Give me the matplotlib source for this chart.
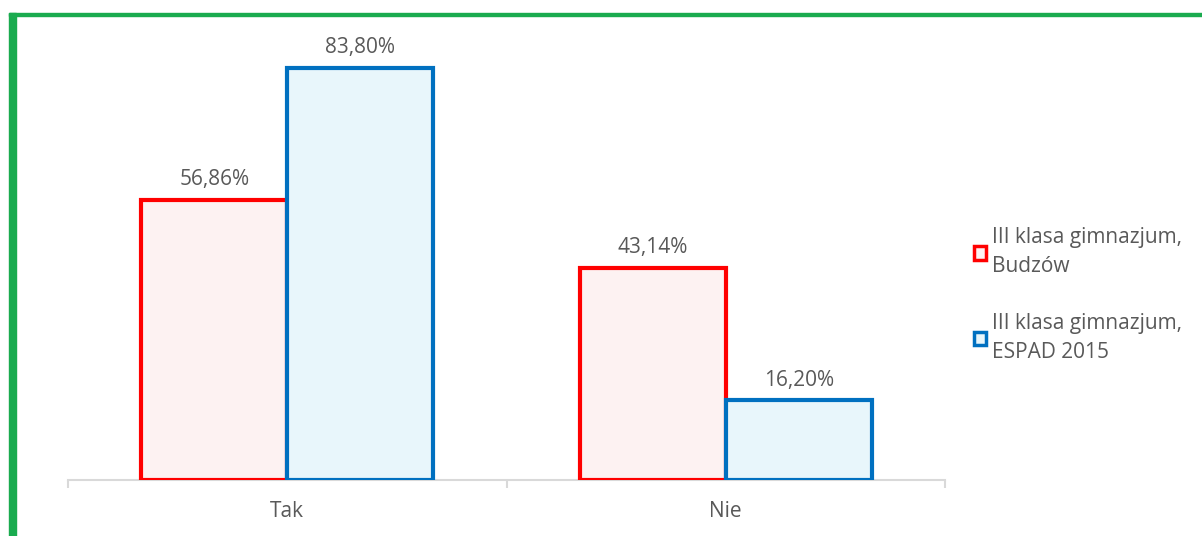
import matplotlib
matplotlib.use("Agg")
import matplotlib.pyplot as plt
from matplotlib.patches import Rectangle
import numpy as np

# ── Data ─────────────────────────────────────────────
categories = ["Tak", "Nie"]
series_names = ["III klasa gimnazjum,\nBudzów", "III klasa gimnazjum,\nESPAD 2015"]
budzow = [56.86, 43.14]
espad = [83.80, 16.20]

EDGE = ["#ff0000", "#0070c0"]
FILL = ["#fdf2f2", "#e8f6fb"]
TXT = "#595959"
GREEN = "#1aab4f"
FS = 15

plt.rcParams["font.family"] = ["Open Sans", "DejaVu Sans"]

fig = plt.figure(figsize=(12.02, 5.36), dpi=100)
ax = fig.add_axes([68 / 1202, 1 - 480 / 536, 877 / 1202, 443 / 536])

x = np.arange(len(categories))
w = 0.333
for i, vals in enumerate([budzow, espad]):
    pos = x + (i - 0.5) * w
    ax.bar(pos, vals, width=w, color=FILL[i], edgecolor=EDGE[i],
           linewidth=3, label=series_names[i], zorder=3)
    for p, v in zip(pos, vals):
        ax.annotate(f"{v:.2f}%".replace(".", ","), (p, v), xytext=(0, 7),
                    textcoords="offset points", ha="center", va="bottom",
                    fontsize=FS, color=TXT)

ax.set_xlim(-0.5, 1.5)
ax.set_ylim(0, 90)
ax.set_yticks([])
for s in ["top", "right", "left"]:
    ax.spines[s].set_visible(False)
ax.spines["bottom"].set_color("#d9d9d9")
ax.spines["bottom"].set_linewidth(1.5)
ax.set_xticks([-0.5, 0.5, 1.5])
ax.set_xticklabels([])
ax.set_xticks(x, minor=True)
ax.set_xticklabels(categories, minor=True, fontsize=FS, color=TXT)
ax.tick_params(axis="x", which="major", length=6, width=1.5, color="#d9d9d9")
ax.tick_params(axis="x", which="minor", length=0, pad=15)

leg = ax.legend(loc="center left", bbox_to_anchor=(955 / 1202, 1 - 295 / 536),
                bbox_transform=fig.transFigure, frameon=False, fontsize=FS,
                handlelength=0.6, handleheight=0.6, handletextpad=0.3,
                labelspacing=1.7)
for t in leg.get_texts():
    t.set_color(TXT)
    t.set_linespacing(1.5)
for h in leg.legend_handles:
    h.set_linewidth(2.5)

# green frame (left and top)
fig.patches.append(Rectangle((9 / 1202, 0), 7 / 1202, 1 - 13 / 536,
                             transform=fig.transFigure, color=GREEN, zorder=0))
fig.patches.append(Rectangle((9 / 1202, 1 - 16 / 536), 1, 3 / 536,
                             transform=fig.transFigure, color=GREEN, zorder=0))

fig.savefig("out.png", dpi=100)
